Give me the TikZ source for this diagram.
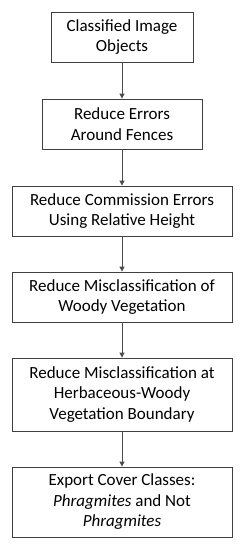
\documentclass[tikz,border=0pt]{standalone}
\usepackage{fontspec}
\setmainfont{Carlito}
\usetikzlibrary{arrows.meta}
\tikzset{
  stepbox/.style={draw=black!75,line width=0.8pt,align=center,inner sep=0pt,
    font=\fontsize{17}{20.5}\selectfont},
  flow/.style={draw=black!70,line width=0.9pt,-{Triangle[length=5pt,width=5pt]}}
}
\begin{document}
\begin{tikzpicture}[x=1pt,y=1pt]
    \useasboundingbox (0,0) rectangle (243,550);
    \node[stepbox,minimum width=142pt,minimum height=50pt] (classified) at (122,513) {Classified Image\\Objects};
    \node[stepbox,minimum width=160pt,minimum height=50pt] (fences) at (122,426) {Reduce Errors\\Around Fences};
    \node[stepbox,minimum width=220pt,minimum height=50pt] (height) at (122,339) {Reduce Commission Errors\\Using Relative Height};
    \node[stepbox,minimum width=220pt,minimum height=50pt] (woody) at (122,253) {Reduce Misclassification of\\Woody Vegetation};
    \node[stepbox,minimum width=220pt,minimum height=73pt] (boundary) at (122,155.5) {Reduce Misclassification at\\Herbaceous-Woody\\Vegetation Boundary};
    \node[stepbox,minimum width=220pt,minimum height=70pt] (export) at (122,48) {Export Cover Classes:\\\textit{Phragmites} and Not\\\textit{Phragmites}};
    \draw[flow] (classified) -- (fences);
    \draw[flow] (fences) -- (height);
    \draw[flow] (height) -- (woody);
    \draw[flow] (woody) -- (boundary);
    \draw[flow] (boundary) -- (export);
  \end{tikzpicture}
\end{document}
